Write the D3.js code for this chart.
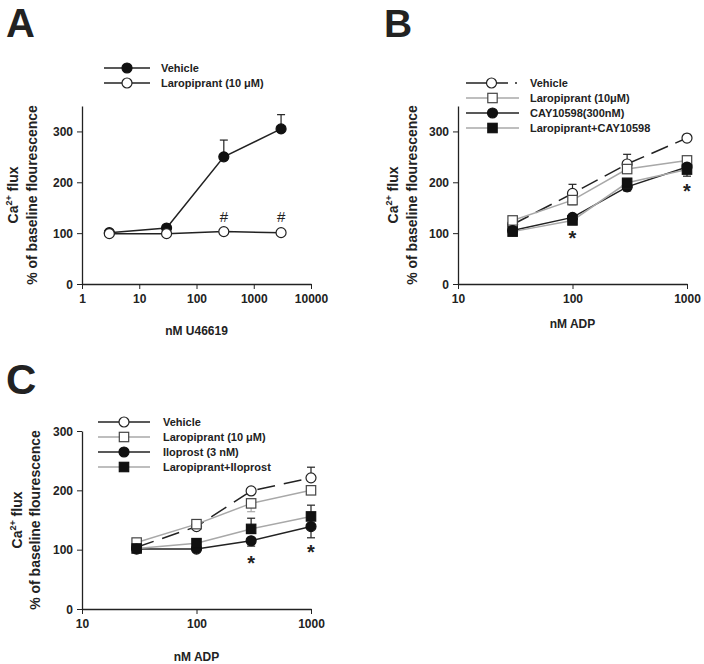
<!DOCTYPE html>
<html><head><meta charset="utf-8">
<script src="https://cdn.jsdelivr.net/npm/d3@7/dist/d3.min.js"></script>
<style>
body{margin:0;background:#fff;}
svg text{font-family:"Liberation Sans",Arial,sans-serif;}
</style></head>
<body><svg id="c" width="704" height="664"></svg>
<script>
// ---------- DATA ----------
// Panel A: nM U46619
const concA = [3, 30, 300, 3000];
const tickA = [1, 10, 100, 1000, 10000];
const aVehicle = [101, 110, 250, 305];
const aVehicleErr = [3, 3, 33, 28];
const aLaro = [99, 99, 103, 101];
const aLaroErr = [2, 2, 3, 2];
const aSig = [300, 3000];           // '#' marks
const aSigY = [132, 132];

// Panel B: nM ADP
const concB = [30, 100, 300, 1000];
const tickB = [10, 100, 1000];
const bVehicle = [117, 178, 236, 287];
const bVehicleErr = [3, 18, 19, 7];
const bLaro = [125, 165, 226, 243];
const bLaroErr = [3, 10, 8, 6];
const bCay = [105, 131, 191, 230];
const bCayErr = [3, 8, 8, 8];
const bLaroCay = [103, 125, 199, 225];
const bLaroCayErr = [3, 8, 10, 13];
const bSig = [100, 1000];
const bSigY = [100, 192];

// Panel C: nM ADP
const concC = [30, 100, 300, 1000];
const tickC = [10, 100, 1000];
const cVehicle = [104, 139, 199, 221];
const cVehicleErr = [2, 3, 3, 18];
const cLaro = [112, 143, 178, 200];
const cLaroErr = [2, 3, 14, 5];
const cIlo = [101, 101, 115, 139];
const cIloErr = [2, 2, 9, 19];
const cLaroIlo = [102, 111, 135, 156];
const cLaroIloErr = [2, 3, 18, 19];
const cSig = [300, 1000];
const cSigY = [86, 105];

const yTicksAB = [0, 100, 200, 300];
const yTicksC = [0, 100, 200, 300];

// ---------- DRAW ----------
const svg = d3.select("#c");
const GRAY = "#a8a8a8";

function drawPanel(p) {
  const g = svg.append("g");
  const x = d3.scaleLog().domain(p.xDomain).range(p.xRange);
  const y = d3.scaleLinear().domain(p.yDomain).range(p.yRange);

  // axes
  const ax = g.append("g").attr("transform", `translate(0,${p.yRange[0]})`)
    .call(d3.axisBottom(x).tickValues(p.xTicks).tickFormat(d3.format("d")).tickSize(5).tickSizeOuter(0));
  const ay = g.append("g").attr("transform", `translate(${p.xRange[0]},0)`)
    .call(d3.axisLeft(y).tickValues(p.yTicks).tickSize(5).tickSizeOuter(0));
  [ax, ay].forEach(a => {
    a.select(".domain").attr("stroke", "#222").attr("stroke-width", 1.3);
    a.selectAll(".tick line").attr("stroke", "#222").attr("stroke-width", 1);
    a.selectAll(".tick text").attr("font-size", 12).attr("font-weight", "bold").attr("fill", "#222")
      .attr("font-family", "'Liberation Sans',Arial,sans-serif");
  });
  ax.selectAll(".tick text").attr("dy", null).attr("y", 19);
  ay.selectAll(".tick text").attr("x", -9).attr("dy", "0.35em");

  // series
  p.series.forEach(s => {
    const pts = p.conc.map((c, i) => ({c, v: s.values[i], e: s.err[i]}));
    const line = d3.line().x(d => x(d.c)).y(d => y(d.v));
    g.append("path").datum(pts).attr("d", line).attr("fill", "none")
      .attr("stroke", s.lineColor).attr("stroke-width", 1.5)
      .attr("stroke-dasharray", s.dash || null);
    // error bars
    pts.forEach(d => {
      const y0 = y(d.v), y1 = y(d.v + s.errDir * d.e);
      g.append("line").attr("x1", x(d.c)).attr("x2", x(d.c)).attr("y1", y0).attr("y2", y1)
        .attr("stroke", s.errColor).attr("stroke-width", 1.2);
      g.append("line").attr("x1", x(d.c) - 4).attr("x2", x(d.c) + 4).attr("y1", y1).attr("y2", y1)
        .attr("stroke", s.errColor).attr("stroke-width", 1.2);
    });
    pts.forEach(d => drawMarker(g, s.marker, x(d.c), y(d.v), s.fill, s.markStroke));
  });

  // significance marks
  p.sig.forEach((c, i) => {
    g.append("text").attr("x", x(c)).attr("y", y(p.sigY[i]) + p.sigDy)
      .attr("text-anchor", "middle").attr("font-size", p.sigSize).attr("font-weight", p.sigWeight)
      .attr("fill", "#222").text(p.sigChar);
  });

  // legend
  p.series.forEach((s, i) => {
    const ly = p.legY + i * p.legStep;
    g.append("line").attr("x1", p.legX0).attr("x2", p.legX1).attr("y1", ly).attr("y2", ly)
      .attr("stroke", s.lineColor).attr("stroke-width", 1.5)
      .attr("stroke-dasharray", s.legDash || null);
    drawMarker(g, s.marker, (p.legX0 + p.legX1) / 2 + (s.legMarkShift || 0), ly, s.fill, s.markStroke);
    g.append("text").attr("x", p.legText).attr("y", ly + 4).attr("font-size", 11)
      .attr("font-weight", "bold").attr("fill", "#222").text(s.name);
  });

  // axis titles
  g.append("text").attr("x", (p.xRange[0] + p.xRange[1]) / 2).attr("y", p.xTitleY)
    .attr("text-anchor", "middle").attr("font-size", 12).attr("font-weight", "bold").attr("fill", "#222")
    .text(p.xTitle);
  const cy = (p.yRange[0] + p.yRange[1]) / 2;
  const t1 = g.append("text").attr("transform", `translate(${p.yT1},${cy}) rotate(-90)`)
    .attr("text-anchor", "middle").attr("font-size", 14).attr("font-weight", "bold").attr("fill", "#222");
  t1.append("tspan").text("Ca");
  t1.append("tspan").attr("font-size", 9).attr("dy", -6).text("2+");
  t1.append("tspan").attr("dy", 6).text(" flux");
  g.append("text").attr("transform", `translate(${p.yT2},${cy}) rotate(-90)`)
    .attr("text-anchor", "middle").attr("font-size", 14).attr("font-weight", "bold").attr("fill", "#222")
    .text("% of baseline flourescence");

  // panel letter
  g.append("text").attr("x", p.letterX).attr("y", p.letterY).attr("font-size", p.letterSize)
    .attr("font-weight", "bold").attr("fill", "#222").text(p.letter);
}

function drawMarker(g, type, cx, cy, fill, stroke) {
  if (type === "circle") {
    g.append("circle").attr("cx", cx).attr("cy", cy).attr("r", 5)
      .attr("fill", fill).attr("stroke", stroke).attr("stroke-width", 1.2);
  } else {
    g.append("rect").attr("x", cx - 4.7).attr("y", cy - 4.7).attr("width", 9.4).attr("height", 9.4)
      .attr("fill", fill).attr("stroke", stroke).attr("stroke-width", 1.2);
  }
}

drawPanel({
  letter: "A", letterX: 6, letterY: 37, letterSize: 40,
  xDomain: [1, 10000], xRange: [82, 311], xTicks: tickA,
  yDomain: [0, 350], yRange: [284, 106], yTicks: yTicksAB,
  conc: concA, xTitle: "nM U46619", xTitleY: 335, yT1: 18, yT2: 37,
  sig: aSig, sigY: aSigY, sigChar: "#", sigSize: 15, sigWeight: "normal", sigDy: 5,
  legX0: 104, legX1: 150, legY: 68, legStep: 15, legText: 161,
  series: [
    {name: "Vehicle", values: aVehicle, err: aVehicleErr, errDir: 1, marker: "circle", fill: "#111", markStroke: "#111", lineColor: "#222", errColor: "#222"},
    {name: "Laropiprant (10 μM)", values: aLaro, err: aLaroErr, errDir: 1, marker: "circle", fill: "#fff", markStroke: "#222", lineColor: "#222", errColor: "#222"}
  ]
});

drawPanel({
  letter: "B", letterX: 384, letterY: 37, letterSize: 39,
  xDomain: [10, 1000], xRange: [458, 687], xTicks: tickB,
  yDomain: [0, 350], yRange: [284, 106], yTicks: yTicksAB,
  conc: concB, xTitle: "nM ADP", xTitleY: 328, yT1: 398, yT2: 417,
  sig: bSig, sigY: bSigY, sigChar: "*", sigSize: 20, sigWeight: "bold", sigDy: 12,
  legX0: 466, legX1: 519, legY: 83, legStep: 15, legText: 530,
  series: [
    {name: "Vehicle", values: bVehicle, err: bVehicleErr, errDir: 1, marker: "circle", fill: "#fff", markStroke: "#222", lineColor: "#222", errColor: "#222", dash: "18,8", legDash: "42,7,2,20", legMarkShift: -1},
    {name: "Laropiprant (10μM)", values: bLaro, err: bLaroErr, errDir: -1, marker: "square", fill: "#fff", markStroke: "#444", lineColor: GRAY, errColor: GRAY},
    {name: "CAY10598(300nM)", values: bCay, err: bCayErr, errDir: -1, marker: "circle", fill: "#111", markStroke: "#111", lineColor: "#222", errColor: "#222"},
    {name: "Laropiprant+CAY10598", values: bLaroCay, err: bLaroCayErr, errDir: -1, marker: "square", fill: "#111", markStroke: "#111", lineColor: GRAY, errColor: "#222"}
  ]
});

drawPanel({
  letter: "C", letterX: 6, letterY: 394, letterSize: 42,
  xDomain: [10, 1000], xRange: [82, 311], xTicks: tickC,
  yDomain: [0, 300], yRange: [609, 431], yTicks: yTicksC,
  conc: concC, xTitle: "nM ADP", xTitleY: 661, yT1: 22, yT2: 40,
  sig: cSig, sigY: cSigY, sigChar: "*", sigSize: 20, sigWeight: "bold", sigDy: 12,
  legX0: 98, legX1: 150, legY: 422, legStep: 15, legText: 163,
  series: [
    {name: "Vehicle", values: cVehicle, err: cVehicleErr, errDir: 1, marker: "circle", fill: "#fff", markStroke: "#222", lineColor: "#222", errColor: "#222", dash: "18,9"},
    {name: "Laropiprant (10 μM)", values: cLaro, err: cLaroErr, errDir: -1, marker: "square", fill: "#fff", markStroke: "#444", lineColor: GRAY, errColor: GRAY},
    {name: "Iloprost (3 nM)", values: cIlo, err: cIloErr, errDir: -1, marker: "circle", fill: "#111", markStroke: "#111", lineColor: "#222", errColor: "#222"},
    {name: "Laropiprant+Iloprost", values: cLaroIlo, err: cLaroIloErr, errDir: 1, marker: "square", fill: "#111", markStroke: "#111", lineColor: GRAY, errColor: "#222"}
  ]
});
</script></body></html>
